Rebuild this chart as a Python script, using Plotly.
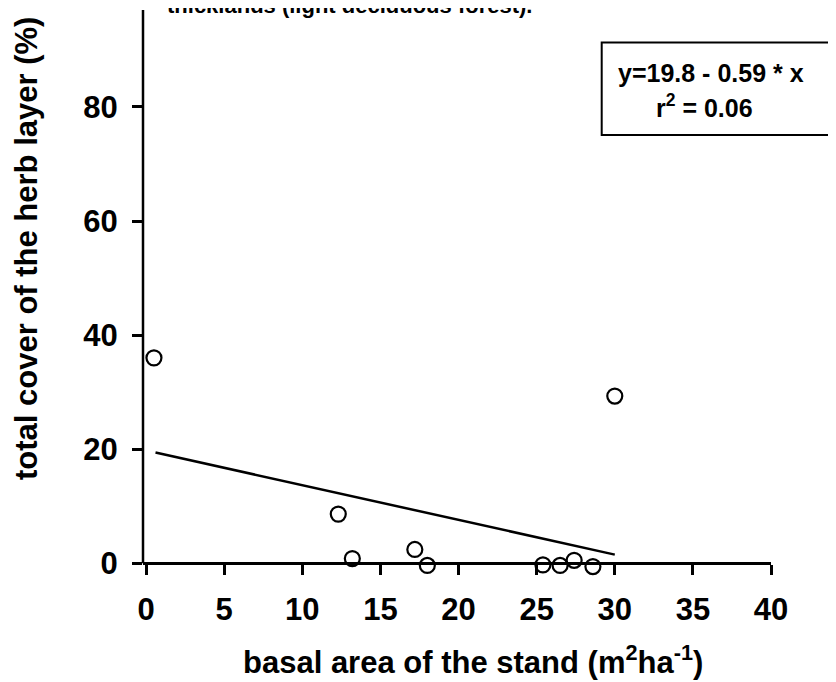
import plotly.graph_objects as go

# data
basal_area = [0.5, 12.3, 13.2, 17.2, 18.0, 25.4, 26.5, 27.4, 28.6, 30.0]
herb_cover = [36.0, 8.6, 0.8, 2.4, -0.4, -0.3, -0.4, 0.5, -0.6, 29.3]
fit_x = [0.6, 30.0]
fit_y = [19.4, 1.5]
x_ticks = [0, 5, 10, 15, 20, 25, 30, 35, 40]
y_ticks = [0, 20, 40, 60, 80]

X_RANGE = [-0.2, 40]
Y_RANGE = [-1.2, 97]

OFF = 8  # page body margin
W, H = 836 - OFF, 682 - OFF
L, T = 135, 2
PW, PH = 628, 560
R = W - L - PW
B = H - T - PH
S_LEFT = L + OFF
S_BOTTOM = T + OFF + PH

def px(sx):
    return (sx - S_LEFT) / PW

def py(sy):
    return (S_BOTTOM - sy) / PH

FONT = "Liberation Sans"

fig = go.Figure()
fig.add_trace(go.Scatter(x=fit_x, y=fit_y, mode="lines",
                         line=dict(color="black", width=2.5), showlegend=False))
fig.add_trace(go.Scatter(x=basal_area, y=herb_cover, mode="markers",
                         marker=dict(symbol="circle-open", size=15, color="black",
                                     line=dict(width=2.2, color="black")),
                         cliponaxis=False, showlegend=False))

tickfont = dict(family=FONT, size=31, color="black", weight="bold")
zero_pos = (0 - Y_RANGE[0]) / (Y_RANGE[1] - Y_RANGE[0])

fig.update_xaxes(range=X_RANGE, tickvals=x_ticks, ticktext=[str(v) for v in x_ticks],
                 showgrid=False, zeroline=False, showline=True, linecolor="black",
                 linewidth=2.5, ticks="outside", ticklen=10, tickwidth=2.5,
                 tickcolor="black", automargin=False, tickfont=tickfont,
                 anchor="free", position=zero_pos, ticklabelstandoff=8)
fig.update_yaxes(range=Y_RANGE, tickvals=y_ticks, ticktext=[str(v) for v in y_ticks],
                 showgrid=False, zeroline=False, showline=False,
                 ticks="outside", ticklen=10, tickwidth=2.5,
                 tickcolor="black", automargin=False, tickfont=tickfont,
                 ticklabelstandoff=8)

fig.update_layout(
    width=W, height=H,
    margin=dict(l=L, r=R, t=T, b=B, autoexpand=False),
    paper_bgcolor="white", plot_bgcolor="white",
)

# y axis line from 0 to the top
fig.add_shape(type="line", xref="paper", yref="y", x0=0, x1=0,
              y0=0, y1=Y_RANGE[1], line=dict(color="black", width=2.5))

# regression box
fig.add_shape(type="rect", xref="paper", yref="paper",
              x0=px(601.7), x1=px(845), y0=py(135), y1=py(42.5),
              line=dict(color="black", width=2), fillcolor="rgba(0,0,0,0)")
fig.add_annotation(xref="paper", yref="paper", x=px(711), y=py(73),
                   xanchor="center", yanchor="middle",
                   text="y=19.8 - 0.59 * x", showarrow=False,
                   font=dict(family=FONT, size=25, color="black", weight="bold"))
fig.add_annotation(xref="paper", yref="paper", x=px(704), y=py(106),
                   xanchor="center", yanchor="middle",
                   text="r<sup>2</sup> = 0.06", showarrow=False,
                   font=dict(family=FONT, size=25, color="black", weight="bold"))

# axis titles
fig.add_annotation(xref="paper", yref="paper", x=px(473), y=py(660),
                   xanchor="center", yanchor="middle",
                   text="basal area of the stand (m<sup>2</sup>ha<sup>-1</sup>)",
                   showarrow=False,
                   font=dict(family=FONT, size=31, color="black", weight="bold"))
fig.add_annotation(xref="paper", yref="paper", x=px(26), y=py(249),
                   xanchor="center", yanchor="middle",
                   text="total cover of the herb layer (%)", textangle=-90,
                   showarrow=False,
                   font=dict(family=FONT, size=31, color="black", weight="bold"))

# cut-off caption at the top
fig.add_annotation(xref="paper", yref="paper", x=px(165), y=py(20), xanchor="left",
                   yanchor="bottom", text="thicklands (light deciduous forest).",
                   showarrow=False,
                   font=dict(family=FONT, size=22, color="black", weight="bold"))

fig.write_html("out.html")
